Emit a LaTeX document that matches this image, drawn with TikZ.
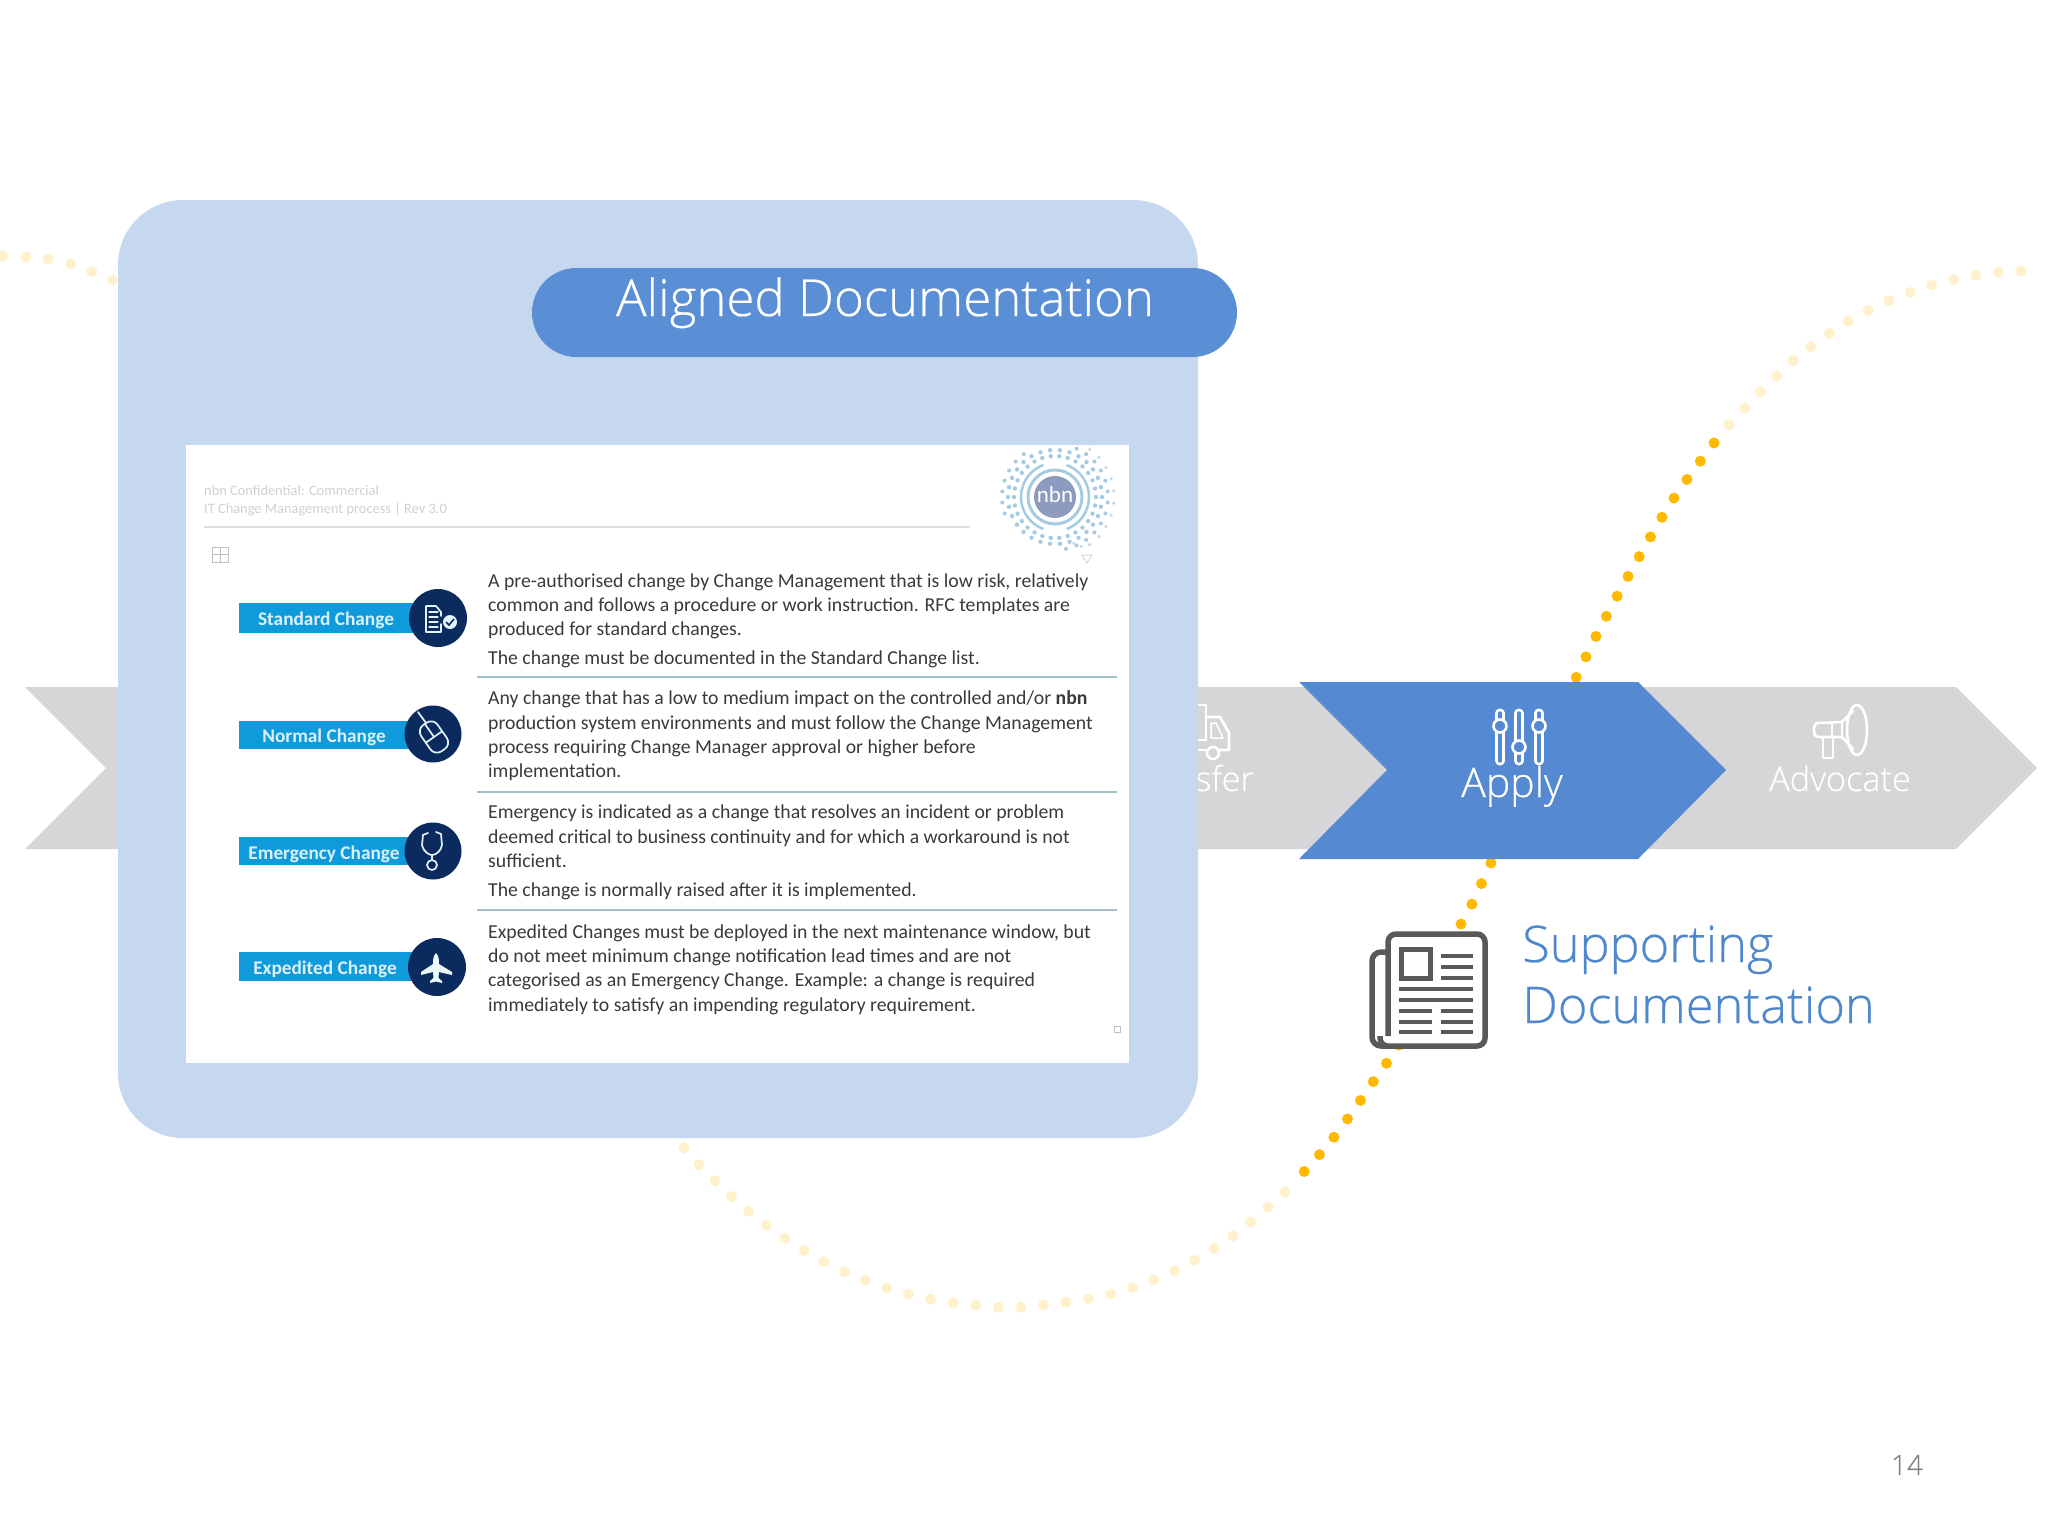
\documentclass[tikz,border=0pt]{standalone}
\usepackage{fontspec}
\setmainfont{Carlito}
\newfontfamily\ttlfont[RawFeature={embolden=0.4}]{Open Sans Light}
\definecolor{panelblue}{HTML}{C6D8EF}
\definecolor{pillblue}{HTML}{5A8FD6}
\definecolor{applyblue}{HTML}{558AD2}
\definecolor{greychev}{HTML}{D6D5D8}
\definecolor{dotbright}{HTML}{FFB900}
\definecolor{dotpale}{HTML}{FFF1CC}
\definecolor{barblue}{HTML}{0F9BDB}
\definecolor{navycirc}{HTML}{0B2A5E}
\definecolor{sepline}{HTML}{A3C0C6}
\definecolor{doctxt}{HTML}{3A3A3A}
\definecolor{logodisk}{HTML}{8D9CBE}
\definecolor{logodot}{HTML}{A5CBE2}
\definecolor{iconink}{HTML}{59595B}
\definecolor{supblue}{HTML}{4F87CD}
\tikzset{
  dots/.style={line width=11pt,line cap=round,dash pattern=on 0pt off 22.7pt},
  doctext/.style={anchor=base west,inner sep=0pt,text=doctxt,font=\fontsize{19.75}{21}\selectfont},
  barlabel/.style={inner sep=0pt,text=white!85!barblue,font=\fontsize{19.3}{21}\selectfont\bfseries},
  bar/.style={fill=barblue,draw=none},
  circ/.style={fill=navycirc,draw=none},
  ic/.style={draw=white!88!barblue,line width=1.7pt,line join=round,line cap=round},
  chevtxt/.style={anchor=base,inner sep=0pt,text=white,font=\ttlfont\fontsize{34.3}{36}\selectfont},
  wicon/.style={draw=white,line width=2.6pt,line join=round,line cap=round},
  sepl/.style={draw=sepline,line width=1.5pt},
  nline/.style={draw=iconink,line width=3.2pt},
  fainttxt/.style={anchor=base west,inner sep=0pt,text=black!18,font=\fontsize{14.4}{16}\selectfont},
}
\newcommand{\tline}[3]{\node[doctext] (#1) at (488,#2) {#3};}
\begin{document}
\begin{tikzpicture}[x=1pt,y=-1pt]
\useasboundingbox (0,0) rectangle (2048,1536);
\fill[white] (0,0) rectangle (2048,1536);
% dotted curve
\draw[dots,dotpale] plot[smooth,tension=0.6] coordinates {(3,256) (26,257) (48,259) (71,264) (93,272) (113,280) (135,290)};
\draw[dots,dotpale] plot[smooth,tension=0.6] coordinates {(1729,425) (1760,392) (1793,361) (1830,333) (1869,310) (1911,292) (1955,279) (2000,272) (2023,271)};
\draw[dots,dotpale] plot[smooth,tension=0.6] coordinates {(1285,1192) (1233,1236) (1174,1271) (1111,1294) (1043,1305) (997,1307) (930,1299) (864,1280) (803,1250) (747,1210) (697,1163) (682,1145)};
\draw[dots,dotbright] plot[smooth,tension=0.6] coordinates {(1714,443) (1674,498) (1639,557) (1606,617) (1576,678) (1490,865) (1471,906) (1460,926) (1396,1050) (1384,1066) (1358,1104) (1331,1141) (1301,1175)};
% grey chevron
\fill[greychev] (25,687) -- (1956,687) -- (2037,768) -- (1956,849) -- (25,849) -- (106,768) -- cycle;
% truck icon
\draw[wicon] (1190,705) -- (1206,705) -- (1206,740) -- (1190,740);
\draw[wicon] (1206,717) -- (1220,717) -- (1229,733) -- (1229,750) -- (1220,750);
\draw[wicon] (1190,750) -- (1207,750);
\draw[wicon] (1213,753) circle (6pt);
\draw[wicon,line width=1.5pt] (1211,723) -- (1216,723) -- (1223,738) -- (1211,738) -- cycle;
\node[chevtxt,anchor=base east] (sfer) at (1254,791) {sfer};
% megaphone
\draw[wicon] (1857,730) ellipse (10pt and 25pt);
\draw[wicon] (1853,711) -- (1842,722) -- (1818,723) to[out=180,in=180] (1818,737) -- (1842,737) -- (1853,749);
\draw[wicon,line width=1.5pt] (1842,722) -- (1842,737) (1832,723) -- (1832,737);
\draw[wicon] (1823,737) -- (1823,758) -- (1833,758) -- (1833,737);
\node[chevtxt] (advocate) at (1840,791) {Advocate};
% apply chevron
\fill[applyblue] (1299,682) -- (1638,682) -- (1726,770) -- (1638,859) -- (1299,859) -- (1387,770) -- cycle;
\foreach \xx/\yy in {1500/726,1519/747,1539/726}{
  \draw[wicon,rounded corners=3pt] (\xx-3.5,710) rectangle (\xx+3.5,764);
  \draw[wicon,fill=applyblue] (\xx,\yy) circle (6.5pt);
}
\node[chevtxt,font=\ttlfont\fontsize{41}{43}\selectfont] (apply) at (1512,797) {Apply};
% newspaper icon
\draw[iconink,line width=5.5pt,fill=white,rounded corners=9pt] (1400,952) -- (1372,952) -- (1372,1046) -- (1470,1046);
\draw[iconink,line width=5.5pt,fill=white,rounded corners=8pt] (1388,1036) -- (1388,934) -- (1485,934) -- (1485,1046) -- (1380,1046) -- (1380,1036);
\draw[iconink,line width=5pt,fill=white] (1401,949) rectangle (1430,978);
\foreach \yy in {956,967,978}{\draw[nline] (1441,\yy) -- (1473,\yy);}
\foreach \yy in {989,1000}{\draw[nline,line width=3.8pt] (1399,\yy) -- (1473,\yy);}
\foreach \yy in {1011,1022,1032}{\draw[nline] (1399,\yy) -- (1432,\yy); \draw[nline] (1441,\yy) -- (1473,\yy);}
\node[anchor=base west,inner sep=0pt,text=supblue,font=\ttlfont\fontsize{50.5}{53}\selectfont] (sup1) at (1522,962) {Supporting};
\node[anchor=base west,inner sep=0pt,text=supblue,font=\ttlfont\fontsize{50.5}{53}\selectfont] (sup2) at (1522,1023) {Documentation};
% panel
\fill[panelblue,rounded corners=65pt] (118,200) rectangle (1198,1138);
\fill[pillblue,rounded corners=44.5pt] (532,268) rectangle (1237,357);
\node[anchor=base,inner sep=0pt,text=white,font=\ttlfont\fontsize{51}{54}\selectfont] (title) at (885,316) {Aligned Documentation};
% document picture
\fill[white] (186,445) rectangle (1129,1063);
\node[fainttxt] (h1) at (204,495) {nbn Confidential: Commercial};
\node[fainttxt] (h2) at (204,513) {IT Change Management process | Rev 3.0};
\draw[black!12,line width=1.2pt] (204,527) -- (970,527);
\draw[black!25,line width=1pt] (212,547) rectangle (228,562) (220,547) -- (220,562) (212,554) -- (228,554);
\draw[black!25,line width=1pt] (1114,1026) rectangle (1120,1032);
% logo
\begin{scope}
\clip (986,447) rectangle (1125,575);
\foreach \aa in {0,12,...,348}{
  \fill[logodot] (1055,497) ++(\aa:41) circle (2.2pt);
  \fill[logodot] (1055,497) ++(\aa:47) circle (2.2pt);
}
\foreach \aa in {-66,-54,...,78,162,174,...,234}{\fill[logodot] (1055,497) ++(\aa:53) circle (2pt);}
\foreach \aa in {-54,-42,...,54}{\fill[logodot!70] (1055,497) ++(\aa:59) circle (1.8pt);}
\foreach \pp in {62:56,68:50,-52:66,-58:72}{\fill[logodot!70] (1055,497) ++(\pp) circle (1.8pt);}
\draw[logodot,line width=3pt] (1055,497) circle (27pt);
\draw[logodot,line width=2.5pt] (1055,497) ++(110:34) arc (110:250:34);
\draw[logodot,line width=2.5pt] (1055,497) ++(70:34) arc (70:-70:34);
\fill[logodisk] (1055,497) circle (21pt);
\end{scope}
\node[inner sep=0pt,text=white,font=\fontsize{23}{24}\selectfont] (nbn) at (1055,495) {nbn};
\draw[black!15,line width=1pt] (1082,555) -- (1092,555) -- (1087,563) -- cycle;
% bars
\fill[bar] (239,603) rectangle (415,633);
\fill[circ] (438,618) circle (29pt);
\node[barlabel] (l1) at (326,620) {Standard Change};
\fill[bar] (239,721) rectangle (412,749);
\fill[circ] (433,734) circle (28.5pt);
\node[barlabel] (l2) at (324,737) {Normal Change};
\fill[bar] (239,837) rectangle (412,865);
\fill[circ] (433,851) circle (28.5pt);
\node[barlabel] (l3) at (324,854) {Emergency Change};
\fill[bar] (239,952) rectangle (415,981);
\fill[circ] (437,967) circle (29pt);
\node[barlabel] (l4) at (325,969) {Expedited Change};
% icon: document check
\draw[ic] (436,606) -- (426,606) -- (426,632) -- (441,632) -- (441,624) (436,606) -- (441,612) -- (441,616);
\draw[ic,line width=1.2pt] (429,612) -- (438,612) (429,617) -- (438,617) (429,622) -- (438,622) (429,627) -- (438,627);
\fill[white!88!barblue] (450,622) circle (7pt);
\draw[navycirc,line width=1.6pt] (446,622) -- (449,625) -- (454,619);
% icon: mouse
\begin{scope}[shift={(434,737)},rotate=35]
  \draw[ic,rounded corners=8pt] (-10,-16) rectangle (10,16);
  \draw[ic] (-10,0) -- (10,0) (0,-16) -- (0,0);
\end{scope}
\draw[ic] (418,712) -- (426,723);
% icon: stethoscope
\draw[ic] (423,835) -- (422,845) .. controls (424,853) and (430,855) .. (432,855) .. controls (436,855) and (441,851) .. (442,845) -- (441,834);
\draw[ic] (423,835) -- (428,833) (441,834) -- (436,832);
\draw[ic] (432,855) -- (432,860);
\draw[ic] (432,865) circle (5pt);
% icon: plane
\fill[white!92!barblue] (436,953) .. controls (439,956) and (439,960) .. (439,964) -- (452,972) -- (452,975) -- (439,972) -- (438.5,978) -- (442,981) -- (442,983) -- (436,981.5) -- (430,983) -- (430,981) -- (433.5,978) -- (433,972) -- (421,975) -- (421,972) -- (433,964) .. controls (433,960) and (433,956) .. (436,953) -- cycle;
% document text
\tline{t1}{587}{A pre-authorised change by Change Management that is low risk, relatively}
\tline{t2}{611}{common and follows a procedure or work instruction. RFC templates are}
\tline{t3}{635}{produced for standard changes.}
\tline{t4}{664}{The change must be documented in the Standard Change list.}
\draw[sepl] (477,677) -- (1117,677);
\tline{t5}{704}{Any change that has a low to medium impact on the controlled and/or \textbf{nbn}}
\tline{t6}{729}{production system environments and must follow the Change Management}
\tline{t7}{753}{process requiring Change Manager approval or higher before}
\tline{t8}{777}{implementation.}
\draw[sepl] (477,792) -- (1117,792);
\tline{t9}{818}{Emergency is indicated as a change that resolves an incident or problem}
\tline{t10}{843}{deemed critical to business continuity and for which a workaround is not}
\tline{t11}{867}{sufficient.}
\tline{t12}{896}{The change is normally raised after it is implemented.}
\draw[sepl] (477,910) -- (1117,910);
\tline{t13}{938}{Expedited Changes must be deployed in the next maintenance window, but}
\tline{t14}{962}{do not meet minimum change notification lead times and are not}
\tline{t15}{986}{categorised as an Emergency Change. Example: a change is required}
\tline{t16}{1011}{immediately to satisfy an impending regulatory requirement.}
% page number
\node[inner sep=0pt,text=black!50,font=\ttlfont\fontsize{28}{30}\selectfont] (pnum) at (1907,1465) {14};
\end{tikzpicture}
\end{document}
